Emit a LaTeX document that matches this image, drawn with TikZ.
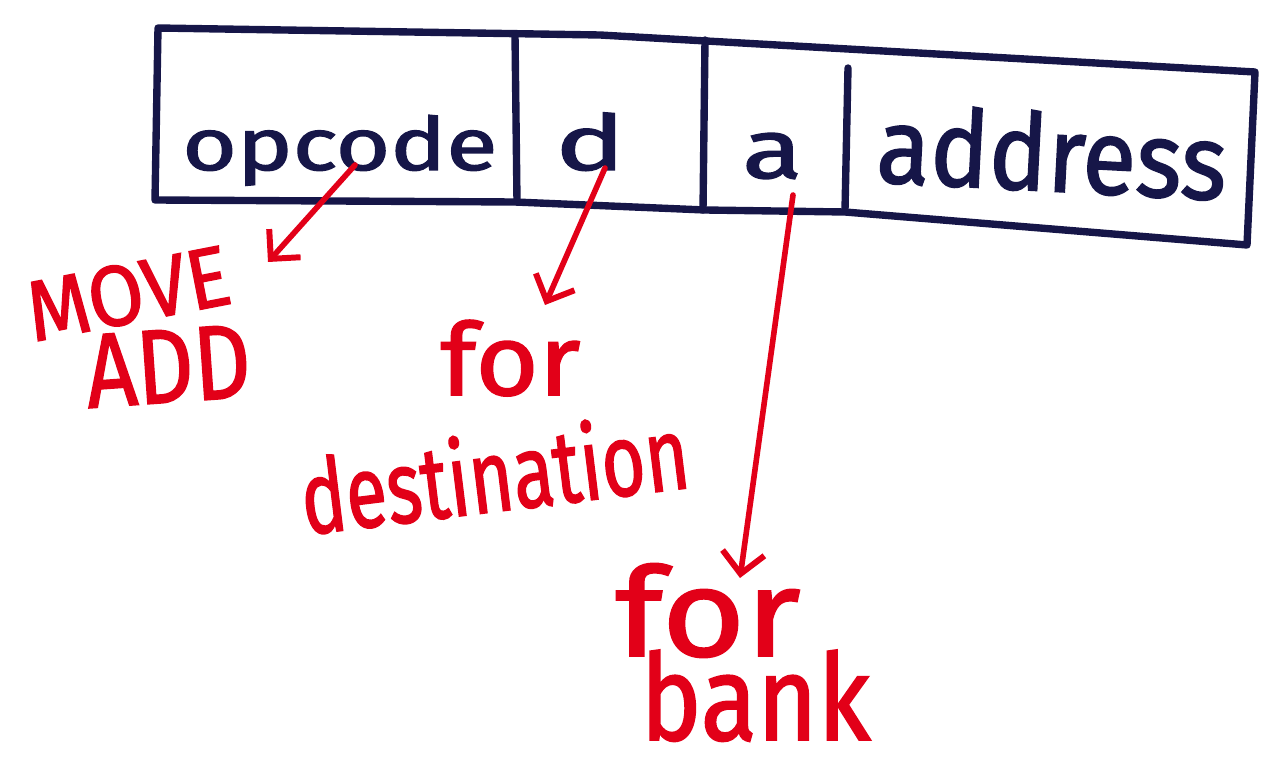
\documentclass[tikz,border=0pt]{standalone}
\usepackage{graphicx}
\usepackage{fontspec}
\setmainfont{Fira Sans}
\newfontfamily\penfont{Fira Sans}[FakeBold=1.6]
\usetikzlibrary{arrows.meta}
\definecolor{ink}{RGB}{22,22,72}
\definecolor{marker}{RGB}{226,0,24}
% word stretched to a given width and height
\newcommand{\fitword}[3]{\resizebox{#1}{#2}{#3}}
\begin{document}
\begin{tikzpicture}[x=0.02cm,y=-0.02cm,
  frame/.style={draw=ink,line width=4.2pt,line join=round,line cap=round},
  field/.style={inner sep=0pt,anchor=base west,text=ink,font=\penfont},
  note/.style={inner sep=0pt,anchor=base west,text=marker,font=\penfont},
  pointer/.style={draw=marker,line width=3.2pt,line cap=round,
    -{Straight Barb[length=12pt,width=24pt,line width=3.4pt]}}]
\useasboundingbox (0,0) rectangle (1261,760);

% instruction word outline and field dividers
\draw[frame] (158,28) -- (600,35) -- (1255,72) -- (1247,245)
  -- (845,212) -- (705,210) -- (515,202) -- (155,200) -- cycle;
\draw[frame] (515,35) -- (517,202);
\draw[frame] (705,40) -- (703,210);
\draw[frame] (848,68) -- (845,210);

% field names
\node[field] (opcode) at (182,170) {\fitword{6.3cm}{1.1cm}{opcode}};
\node[field] (dbit) at (555,170) {\fitword{1.4cm}{1.15cm}{d}};
\node[field] (abit) at (742,178) {\fitword{1.2cm}{0.9cm}{a}};
\node[field,rotate=-3] (addr) at (875,182) {\fitword{7cm}{1.6cm}{address}};

% annotations
\node[note,rotate=11] (move) at (33,342) {\fitword{4.1cm}{1.2cm}{MOVE}};
\node[note,rotate=4] (add) at (88,408) {\fitword{3.3cm}{1.45cm}{ADD}};
\node[note] (for1) at (440,395) {\fitword{2.8cm}{1.5cm}{for}};
\node[note,rotate=7] (dest) at (305,535) {\fitword{7.8cm}{1.6cm}{destination}};
\node[note] (for2) at (615,656) {\fitword{3.7cm}{1.85cm}{for}};
\node[note] (bank) at (640,740) {\fitword{4.6cm}{1.8cm}{bank}};

% arrow ends
\coordinate (opS) at (355,165);
\coordinate (opE) at (268,262);
\coordinate (dS) at (605,168);
\coordinate (dE) at (545,305);
\coordinate (aS) at (793,195);
\coordinate (aE) at (740,578);

\draw[pointer] (opS) -- (opE);
\draw[pointer] (dS) -- (dE);
\draw[pointer] (aS) -- (aE);
\end{tikzpicture}
\end{document}
